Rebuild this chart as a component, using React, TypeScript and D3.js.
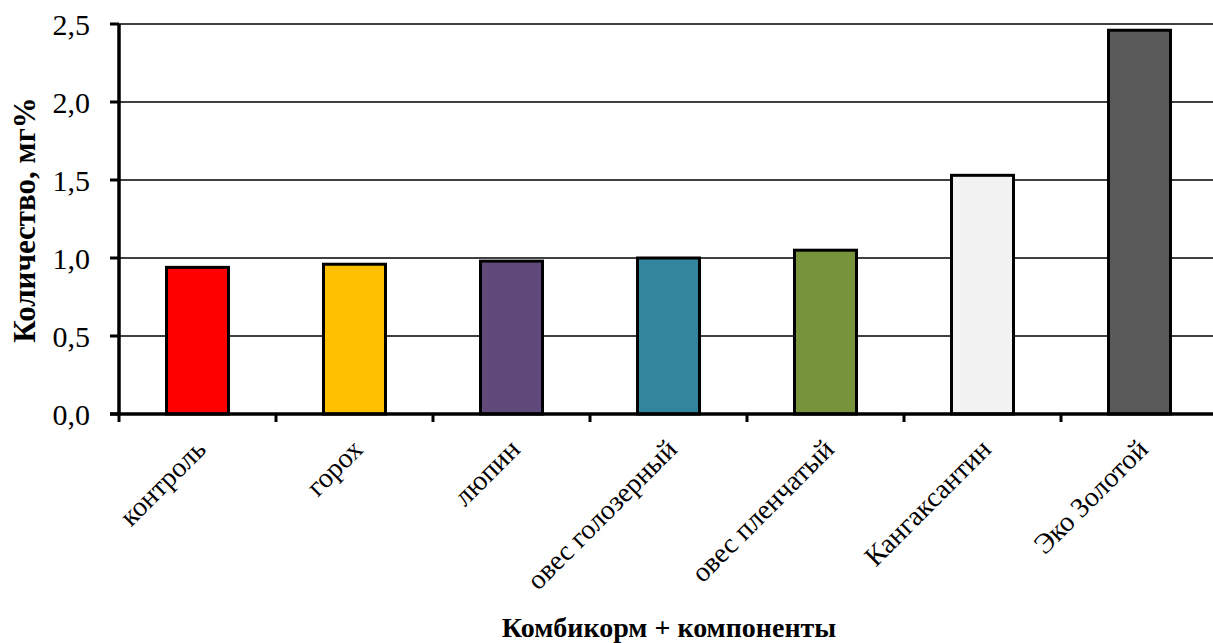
import React, { useEffect, useRef } from "react";
import * as d3 from "d3";

const categories = ["контроль", "горох", "люпин", "овес голозерный", "овес пленчатый", "Кангаксантин", "Эко Золотой"];
const values = [0.94, 0.96, 0.98, 1.0, 1.05, 1.53, 2.46];
const colors = ["#FF0000", "#FFC000", "#604A7B", "#31859C", "#77933C", "#F2F2F2", "#595959"];
const yTicks = [0, 0.5, 1.0, 1.5, 2.0, 2.5];
const yTitle = "Количество, мг%";
const xTitle = "Комбикорм + компоненты";

const W = 1213;
const H = 643;
const FONT = "'Liberation Serif', 'Times New Roman', serif";

export default function App() {
  const ref = useRef<SVGSVGElement>(null);
  useEffect(() => {
    const svg = d3.select(ref.current);
    svg.selectAll("*").remove();
    const left = 119, right = 1218, top = 24, bottom = 414;
    const xb = d3.scaleBand().domain(categories).range([left, right]);
    const y = d3.scaleLinear().domain([0, 2.5]).range([bottom, top]);

    // gridlines
    svg.append("g").selectAll("line").data(yTicks.filter(t => t > 0)).join("line")
      .attr("x1", left).attr("x2", W).attr("y1", d => y(d)).attr("y2", d => y(d))
      .attr("stroke", "#000").attr("stroke-width", 1.3);

    // bars
    svg.append("g").selectAll("rect").data(values).join("rect")
      .attr("x", (d, i) => xb(categories[i])! + xb.bandwidth() / 2 - 31)
      .attr("width", 62)
      .attr("y", d => y(d))
      .attr("height", d => y(0) - y(d))
      .attr("fill", (d, i) => colors[i])
      .attr("stroke", "#000").attr("stroke-width", 3);

    // y axis
    svg.append("line").attr("x1", left).attr("x2", left).attr("y1", top).attr("y2", bottom + 1)
      .attr("stroke", "#000").attr("stroke-width", 3.5);
    svg.append("g").selectAll("line").data(yTicks).join("line")
      .attr("x1", left - 9).attr("x2", left).attr("y1", d => y(d)).attr("y2", d => y(d))
      .attr("stroke", "#000").attr("stroke-width", 3);
    svg.append("g").selectAll("text").data(yTicks).join("text")
      .attr("x", 90).attr("y", d => y(d)).attr("dy", "0.35em")
      .attr("text-anchor", "end").attr("font-family", FONT).attr("font-size", 30)
      .text(d => d3.format(".1f")(d).replace(".", ","));

    // x axis
    svg.append("line").attr("x1", left - 9).attr("x2", W).attr("y1", bottom).attr("y2", bottom)
      .attr("stroke", "#000").attr("stroke-width", 3.5);
    const bounds = categories.map(c => xb(c)!);
    svg.append("g").selectAll("line").data(bounds).join("line")
      .attr("x1", d => d).attr("x2", d => d).attr("y1", bottom).attr("y2", bottom + 8)
      .attr("stroke", "#000").attr("stroke-width", 3);
    svg.append("g").selectAll("text").data(categories).join("text")
      .attr("transform", c => `translate(${xb(c)! + xb.bandwidth() / 2 + 10},${bottom + 37}) rotate(-45)`)
      .attr("text-anchor", "end").attr("font-family", FONT).attr("font-size", 28)
      .text(c => c);

    // titles
    svg.append("text").attr("transform", `translate(35,220) rotate(-90)`)
      .attr("text-anchor", "middle").attr("font-family", FONT).attr("font-size", 31).attr("font-weight", "bold")
      .text(yTitle);
    svg.append("text").attr("x", 669).attr("y", 637)
      .attr("text-anchor", "middle").attr("font-family", FONT).attr("font-size", 28).attr("font-weight", "bold")
      .text(xTitle);
  }, []);
  return <svg ref={ref} width={W} height={H} style={{ display: "block", position: "absolute", left: 0, top: 0 }} />;
}
